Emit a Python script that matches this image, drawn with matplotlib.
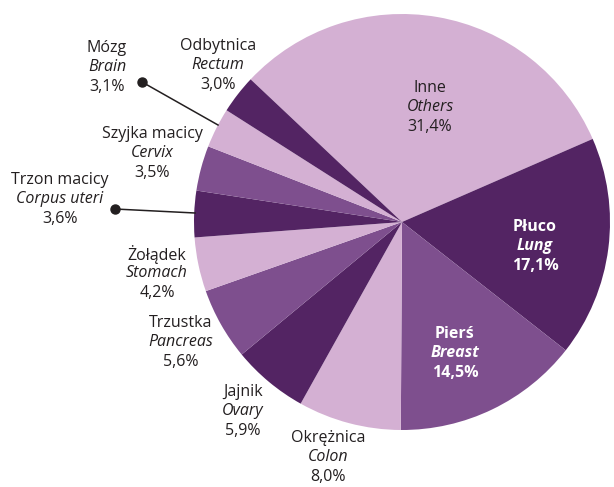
import matplotlib.pyplot as plt

names_pl = ["Inne", "Płuco", "Pierś", "Okrężnica", "Jajnik", "Trzustka",
            "Żołądek", "Trzon macicy", "Szyjka macicy", "Mózg", "Odbytnica"]
names_en = ["Others", "Lung", "Breast", "Colon", "Ovary", "Pancreas",
            "Stomach", "Corpus uteri", "Cervix", "Brain", "Rectum"]
shares = [31.4, 17.1, 14.5, 8.0, 5.9, 5.6, 4.2, 3.6, 3.5, 3.1, 3.0]

LIGHT = "#d4b0d3"
DARK = "#532463"
MEDIUM = "#7e4f8e"
colors = [LIGHT, DARK, MEDIUM] * 3 + [LIGHT, DARK]

W, H = 614, 487
# label anchor (pixel x, pixel y of first line), white text inside
label_pos = [(430, 88, False), (535, 227, True), (455, 334, True),
             (328, 438, False), (243, 392, False), (181, 323, False),
             (157, 254, False), (60, 180, False), (152, 134, False),
             (107, 48, False), (218, 46, False)]
LINE_H = 19.3

plt.rcParams["font.family"] = ["Open Sans", "DejaVu Sans"]

fig = plt.figure(figsize=(W / 100, H / 100), dpi=100)
ax = fig.add_axes([0, 0, 1, 1])

cx, cy, r = 402, H - 222, 208
ax.pie(shares, colors=colors, startangle=136.7, counterclock=False,
       center=(cx, cy), radius=r, frame=True,
       wedgeprops=dict(linewidth=0))
ax.set_xlim(0, W)
ax.set_ylim(0, H)
ax.set_aspect("equal")
ax.axis("off")

for pl, en, v, (x, y, inside) in zip(names_pl, names_en, shares, label_pos):
    col = "white" if inside else "#231f20"
    weight = "bold" if inside else "normal"
    pct = f"{v:.1f}".replace(".", ",") + "%"
    lines = [(pl, "normal"), (en, "italic"), (pct, "normal")]
    for i, (txt, style) in enumerate(lines):
        ax.text(x, H - (y + i * LINE_H), txt, ha="center", va="center",
                fontsize=11.5, color=col, style=style, fontweight=weight)

# leader lines with dots
leaders = [((142, 82), (218, 125)), ((115, 209), (195, 213))]
for (x0, y0), (x1, y1) in leaders:
    ax.plot([x0, x1], [H - y0, H - y1], color="#231f20", lw=1.1, zorder=5)
    ax.plot([x0], [H - y0], "o", color="#231f20", ms=6.5, zorder=6)

fig.savefig("out.png", dpi=100)
